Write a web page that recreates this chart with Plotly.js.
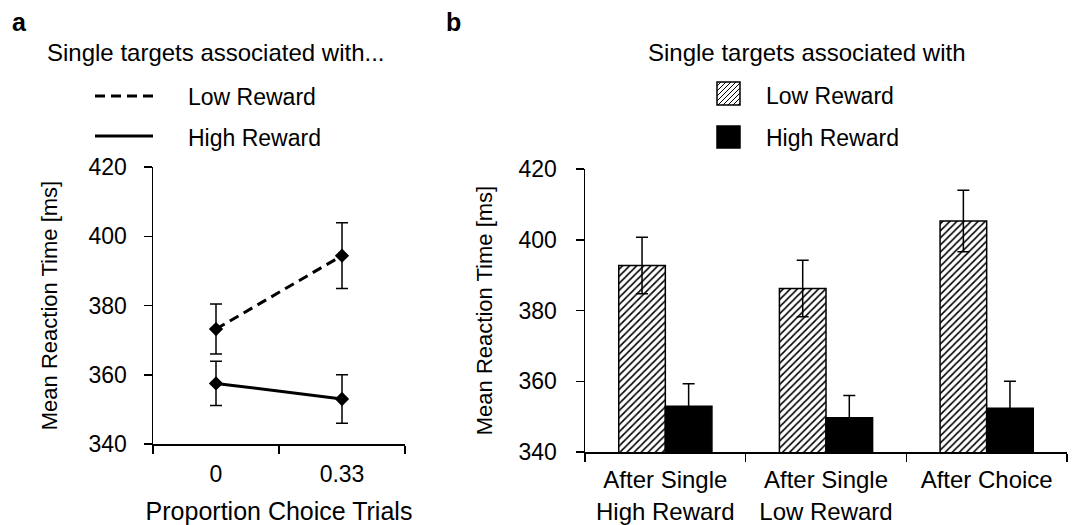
<!DOCTYPE html>
<html>
<head>
<meta charset="utf-8">
<script src="https://cdn.plot.ly/plotly-3.0.1.min.js"></script>
<style>html,body{margin:0;padding:0;background:#fff;} #chart{width:1077px;height:525px;}</style>
</head>
<body>
<div id="chart"></div>
<script>
// ---- Data ----
const lineCategories = ['0', '0.33'];
const lineLowReward = [373.2, 394.4];
const lineLowRewardErr = [7.2, 9.5];
const lineHighReward = [357.5, 353.0];
const lineHighRewardErr = [6.4, 7.0];

const barCategories = ['After Single<br>High Reward', 'After Single<br>Low Reward', 'After Choice'];
const barLowReward = [392.7, 386.2, 405.3];
const barLowRewardErr = [8.0, 8.0, 8.7];
const barHighReward = [352.9, 349.7, 352.4];
const barHighRewardErr = [6.4, 6.3, 7.6];

const yTickVals = [340, 360, 380, 400, 420];
const seriesNames = ['Low Reward', 'High Reward'];

// ---- Layout helpers (pixel -> paper, margins are zero) ----
const W = 1077, H = 525;
const px = x => x / W;
const py = y => 1 - y / H;
const FONT = '"Liberation Sans", Arial, Helvetica, sans-serif';

const errA = (arr) => ({type: 'data', array: arr, visible: true, color: '#000', thickness: 1.5, width: 6});

const traces = [
  {
    x: lineCategories, y: lineLowReward, name: seriesNames[0], type: 'scatter', mode: 'lines+markers',
    xaxis: 'x', yaxis: 'y', showlegend: false,
    line: {color: '#000', width: 3, dash: '10px,6px'},
    marker: {symbol: 'diamond', size: 11, color: '#000'},
    error_y: errA(lineLowRewardErr)
  },
  {
    x: lineCategories, y: lineHighReward, name: seriesNames[1], type: 'scatter', mode: 'lines+markers',
    xaxis: 'x', yaxis: 'y', showlegend: false,
    line: {color: '#000', width: 3},
    marker: {symbol: 'diamond', size: 11, color: '#000'},
    error_y: errA(lineHighRewardErr)
  },
  {
    x: barCategories, y: barLowReward, name: seriesNames[0], type: 'bar',
    xaxis: 'x2', yaxis: 'y2', showlegend: false,
    marker: {color: '#fff', line: {color: '#000', width: 1.5},
             pattern: {shape: '/', fgcolor: '#000', bgcolor: '#fff', size: 5, solidity: 0.32}},
    error_y: errA(barLowRewardErr)
  },
  {
    x: barCategories, y: barHighReward, name: seriesNames[1], type: 'bar',
    xaxis: 'x2', yaxis: 'y2', showlegend: false,
    marker: {color: '#000', line: {color: '#000', width: 1.5}},
    error_y: errA(barHighRewardErr)
  }
];

const axisCommon = {
  showline: true, linecolor: '#000', linewidth: 1.5,
  ticks: 'outside', ticklen: 8, tickwidth: 1.5, tickcolor: '#000',
  showgrid: false, zeroline: false, fixedrange: true,
  tickfont: {family: FONT, size: 23, color: '#000'}
};

// Legend swatches as shapes
const shapes = [];
// panel a legend lines
shapes.push({type: 'line', xref: 'paper', yref: 'paper', x0: px(95), x1: px(153), y0: py(96), y1: py(96),
  line: {color: '#000', width: 3, dash: '10px,6px'}});
shapes.push({type: 'line', xref: 'paper', yref: 'paper', x0: px(95), x1: px(153), y0: py(136), y1: py(136),
  line: {color: '#000', width: 3}});
// panel b legend squares
const sq = {x0: 717, x1: 740, y0: 82, y1: 105};
let hatch = '';
for (let c = sq.x0 + sq.y0 + 4; c < sq.x1 + sq.y1; c += 5) {
  // line x + y = c clipped to square
  let xa = Math.max(sq.x0, c - sq.y1), ya = c - xa;
  let xb = Math.min(sq.x1, c - sq.y0), yb = c - xb;
  hatch += `M${px(xa)},${py(ya)}L${px(xb)},${py(yb)}`;
}
shapes.push({type: 'rect', xref: 'paper', yref: 'paper', x0: px(sq.x0), x1: px(sq.x1), y0: py(sq.y1), y1: py(sq.y0),
  fillcolor: '#fff', line: {color: '#000', width: 1.5}});
shapes.push({type: 'path', xref: 'paper', yref: 'paper', path: hatch, line: {color: '#000', width: 1}});
shapes.push({type: 'rect', xref: 'paper', yref: 'paper', x0: px(717), x1: px(740), y0: py(148), y1: py(126),
  fillcolor: '#000', line: {color: '#000', width: 1.5}});

const ann = (text, x, y, size, opts) => Object.assign({
  text: text, xref: 'paper', yref: 'paper', x: px(x), y: py(y), showarrow: false,
  xanchor: 'left', yanchor: 'middle', font: {family: FONT, size: size, color: '#000'}
}, opts || {});

const annotations = [
  ann('<b>a</b>', 10, 22, 25),
  ann('<b>b</b>', 444, 22, 25),
  ann('Single targets associated with...', 45, 52, 24),
  ann('Single targets associated with', 646, 52, 24),
  ann(seriesNames[0], 186, 97, 23),
  ann(seriesNames[1], 186, 138, 23),
  ann(seriesNames[0], 764, 96, 23),
  ann(seriesNames[1], 764, 138, 23)
];

const layout = {
  width: W, height: H,
  margin: {l: 0, r: 0, t: 0, b: 0},
  paper_bgcolor: '#fff', plot_bgcolor: '#fff',
  font: {family: FONT, size: 22, color: '#000'},
  showlegend: false,
  barmode: 'group', bargap: 0.42, bargroupgap: 0,
  xaxis: Object.assign({}, axisCommon, {
    domain: [px(153), px(405)], anchor: 'y', type: 'category', range: [-0.5, 1.5],
    tickson: 'boundaries', ticklabelstandoff: 9,
    title: {text: 'Proportion Choice Trials', font: {family: FONT, size: 25, color: '#000'}, standoff: 16}
  }),
  yaxis: Object.assign({}, axisCommon, {
    domain: [py(444), py(167)], anchor: 'x', range: [340, 420], tickvals: yTickVals,
    ticklabelstandoff: 12,
    title: {text: 'Mean Reaction Time [ms]', font: {family: FONT, size: 22, color: '#000'}, standoff: 25}
  }),
  xaxis2: Object.assign({}, axisCommon, {
    domain: [px(585), px(1067)], anchor: 'y2', type: 'category', range: [-0.5, 2.5],
    tickson: 'boundaries', ticklabelstandoff: 6,
    tickfont: {family: FONT, size: 24, color: '#000'}
  }),
  yaxis2: Object.assign({}, axisCommon, {
    domain: [py(452), py(169)], anchor: 'x2', range: [340, 420], tickvals: yTickVals,
    ticklabelstandoff: 14,
    title: {text: 'Mean Reaction Time [ms]', font: {family: FONT, size: 22, color: '#000'}, standoff: 20}
  }),
  shapes: shapes,
  annotations: annotations
};

Plotly.newPlot('chart', traces, layout, {staticPlot: true, displayModeBar: false});
</script>
</body>
</html>
